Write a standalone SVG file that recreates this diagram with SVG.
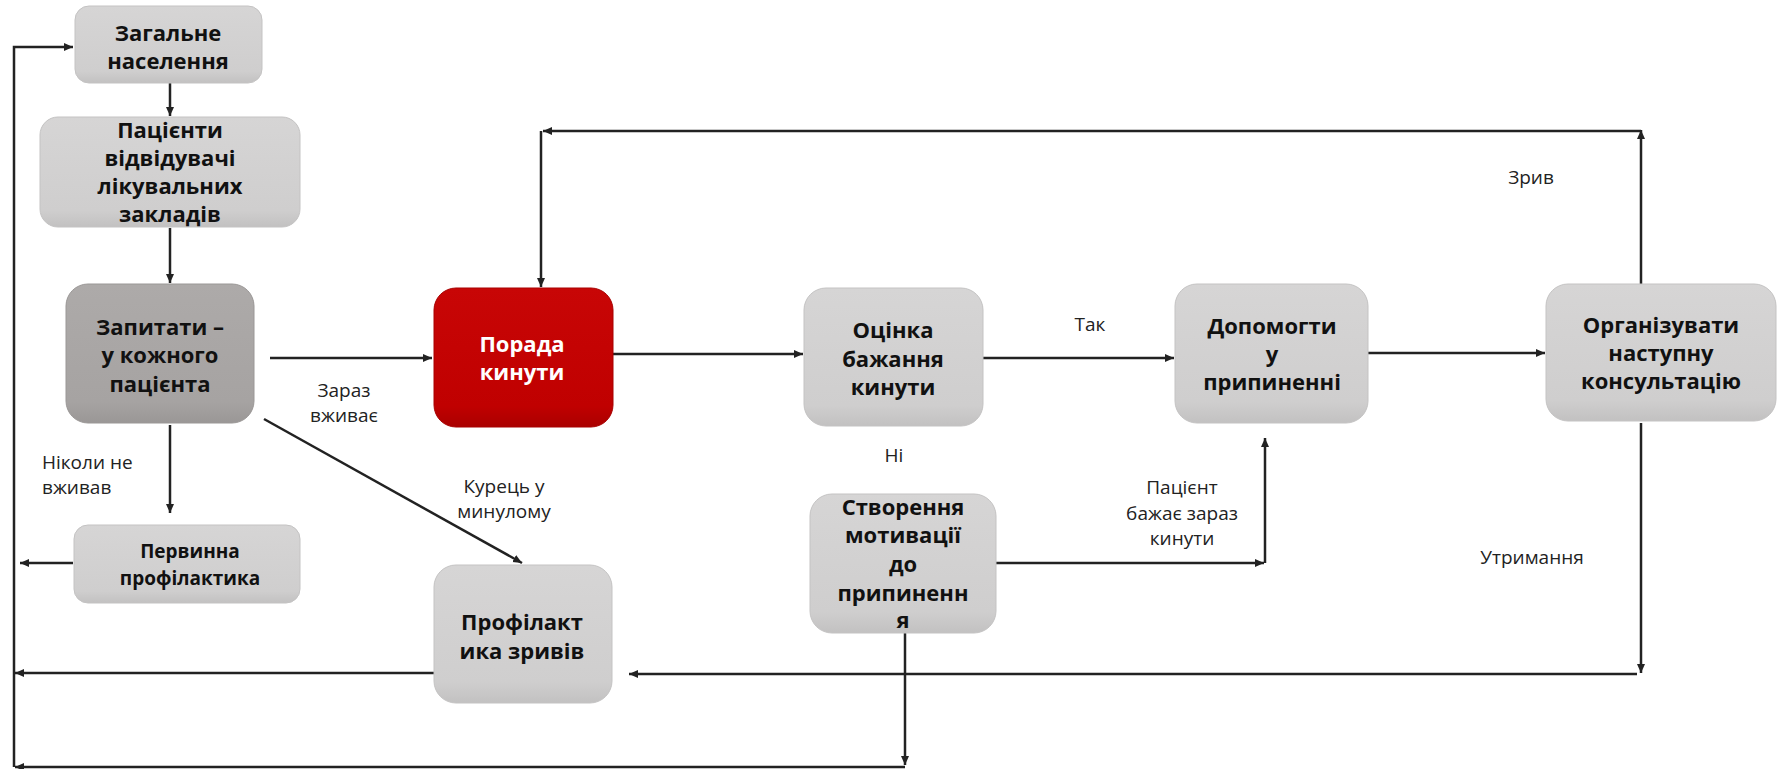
<svg xmlns="http://www.w3.org/2000/svg" width="1778" height="769" viewBox="0 0 1778 769">
<style>
.box{fill:url(#gg);stroke:#c4c3c3;stroke-width:1}
.dark{fill:url(#gd);stroke:#9a9796;stroke-width:1}
.red{fill:url(#gr);stroke:#a80000;stroke-width:1}
.t{font-family:"Open Sans","Liberation Sans",sans-serif;font-weight:bold;font-size:22px;fill:#111;text-anchor:middle}
.tw{fill:#fff}
.l{font-family:"Open Sans","Liberation Sans",sans-serif;font-size:19px;fill:#222;text-anchor:middle}
.ls{text-anchor:start}
.c{fill:none;stroke:#222;stroke-width:2.5}
</style>
<defs>
<linearGradient id="gg" x1="0" y1="0" x2="0" y2="1"><stop offset="0" stop-color="#d6d5d5"/><stop offset="0.85" stop-color="#cfcece"/><stop offset="1" stop-color="#c2c1c1"/></linearGradient>
<linearGradient id="gd" x1="0" y1="0" x2="0" y2="1"><stop offset="0" stop-color="#adaaa9"/><stop offset="0.85" stop-color="#a6a3a2"/><stop offset="1" stop-color="#9a9796"/></linearGradient>
<linearGradient id="gr" x1="0" y1="0" x2="0" y2="1"><stop offset="0" stop-color="#c80606"/><stop offset="0.85" stop-color="#c00000"/><stop offset="1" stop-color="#aa0000"/></linearGradient>
<marker id="a" markerUnits="userSpaceOnUse" markerWidth="10" markerHeight="9" refX="9" refY="4.5" orient="auto"><path d="M0,0.5 L9,4.5 L0,8.5 z" fill="#222"/></marker>
</defs>

<g id="connectors">
<path class="c" d="M170,83 V116" marker-end="url(#a)"/>
<path class="c" d="M170,228 V283" marker-end="url(#a)"/>
<path class="c" d="M170,425 V513" marker-end="url(#a)"/>
<path class="c" d="M73,563 H20" marker-end="url(#a)"/>
<path class="c" d="M14,767 V47 H73" marker-end="url(#a)"/>
<path class="c" d="M905,633 V765" marker-end="url(#a)"/>
<path class="c" d="M905,767 H15" marker-end="url(#a)"/>
<path class="c" d="M434,673 H15" marker-end="url(#a)"/>
<path class="c" d="M270,358 H432" marker-end="url(#a)"/>
<path class="c" d="M264,419 L522,563" marker-end="url(#a)"/>
<path class="c" d="M613,354 H803" marker-end="url(#a)"/>
<path class="c" d="M983,358 H1174" marker-end="url(#a)"/>
<path class="c" d="M996,563 H1264" marker-end="url(#a)"/>
<path class="c" d="M1265,563 V438" marker-end="url(#a)"/>
<path class="c" d="M1368,353 H1545" marker-end="url(#a)"/>
<path class="c" d="M1641,284 V130" marker-end="url(#a)"/>
<path class="c" d="M1641,131 H543" marker-end="url(#a)"/>
<path class="c" d="M541,131 V287" marker-end="url(#a)"/>
<path class="c" d="M1641,423 V673" marker-end="url(#a)"/>
<path class="c" d="M1637,674 H629" marker-end="url(#a)"/>
<text class="l ls" x="42" y="469">Ніколи не</text>
<text class="l ls" x="42" y="494">вживав</text>
<text class="l" x="344" y="397">Зараз</text>
<text class="l" x="344" y="422">вживає</text>
<text class="l" x="504" y="493">Курець у</text>
<text class="l" x="504" y="518">минулому</text>
<text class="l" x="1090" y="331">Так</text>
<text class="l" x="894" y="462">Ні</text>
<text class="l" x="1182" y="494">Пацієнт</text>
<text class="l" x="1182" y="520">бажає зараз</text>
<text class="l" x="1182" y="545">кинути</text>
<text class="l" x="1531" y="184">Зрив</text>
<text class="l" x="1532" y="564">Утримання</text>
</g>

<g id="n1">
<rect class="box" x="75" y="6" width="187" height="77" rx="14"/>
<text class="t" x="168" y="41">Загальне</text>
<text class="t" x="168" y="69">населення</text>
</g>
<g id="n2">
<rect class="box" x="40" y="117" width="260" height="110" rx="18"/>
<text class="t" x="170" y="138">Пацієнти</text>
<text class="t" x="170" y="166">відвідувачі</text>
<text class="t" x="170" y="194">лікувальних</text>
<text class="t" x="170" y="222">закладів</text>
</g>
<g id="n3">
<rect class="dark" x="66" y="284" width="188" height="139" rx="22"/>
<text class="t" x="160" y="335">Запитати –</text>
<text class="t" x="160" y="363">у кожного</text>
<text class="t" x="160" y="392">пацієнта</text>
</g>
<g id="n4">
<rect class="box" x="74" y="525" width="226" height="78" rx="14"/>
<text class="t" x="190" y="558" style="font-size:19px">Первинна</text>
<text class="t" x="190" y="585" style="font-size:19px">профілактика</text>
</g>
<g id="n5">
<rect class="red" x="434" y="288" width="179" height="139" rx="22"/>
<text class="t tw" x="522" y="352">Порада</text>
<text class="t tw" x="522" y="380">кинути</text>
</g>
<g id="n6">
<rect class="box" x="434" y="565" width="178" height="138" rx="22"/>
<text class="t" x="522" y="630">Профілакт</text>
<text class="t" x="522" y="659">ика зривів</text>
</g>
<g id="n7">
<rect class="box" x="804" y="288" width="179" height="138" rx="22"/>
<text class="t" x="893" y="338">Оцінка</text>
<text class="t" x="893" y="367">бажання</text>
<text class="t" x="893" y="395">кинути</text>
</g>
<g id="n8">
<rect class="box" x="810" y="494" width="186" height="139" rx="22"/>
<text class="t" x="903" y="515">Створення</text>
<text class="t" x="903" y="543">мотивації</text>
<text class="t" x="903" y="572">до</text>
<text class="t" x="903" y="601">припиненн</text>
<text class="t" x="903" y="628">я</text>
</g>
<g id="n9">
<rect class="box" x="1175" y="284" width="193" height="139" rx="22"/>
<text class="t" x="1272" y="334">Допомогти</text>
<text class="t" x="1272" y="362">у</text>
<text class="t" x="1272" y="390">припиненні</text>
</g>
<g id="n10">
<rect class="box" x="1546" y="284" width="230" height="137" rx="22"/>
<text class="t" x="1661" y="333">Організувати</text>
<text class="t" x="1661" y="361">наступну</text>
<text class="t" x="1661" y="389">консультацію</text>
</g>
</svg>
